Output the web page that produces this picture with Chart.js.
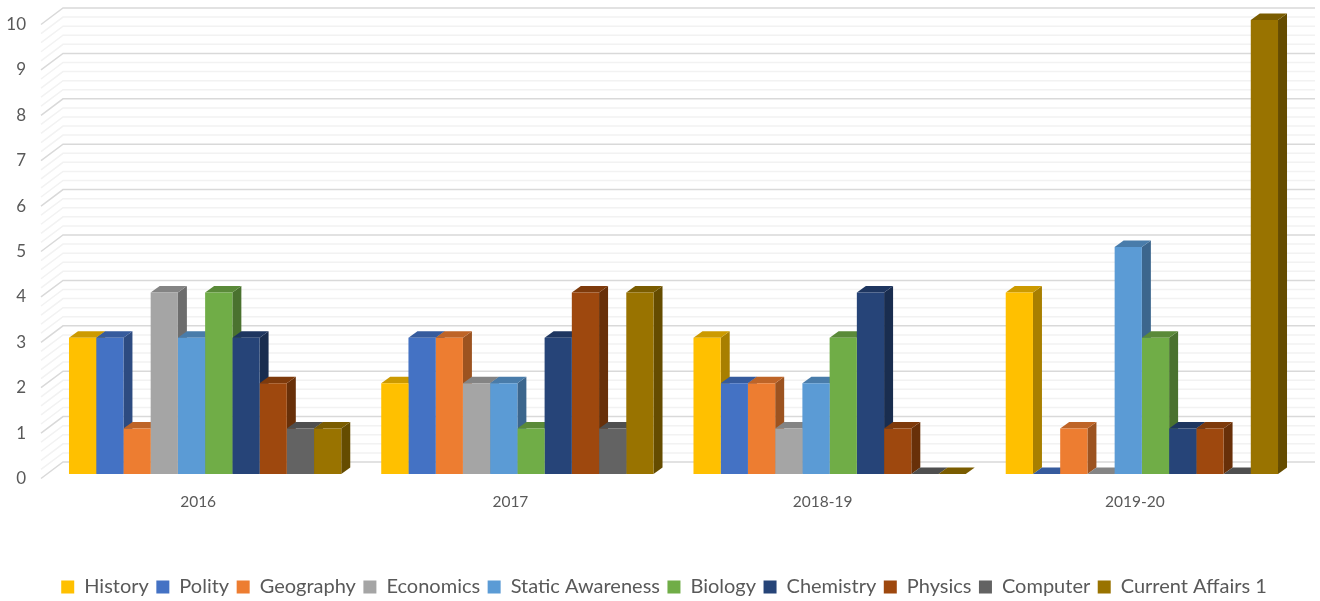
<!DOCTYPE html>
<html>
<head>
<meta charset="utf-8">
<title>Questions by subject</title>
<script src="https://cdn.jsdelivr.net/npm/chart.js@4"></script>
<style>
  html, body { margin: 0; padding: 0; background: #fff; }
  canvas { display: block; }
</style>
</head>
<body>
<canvas id="chart" width="1320" height="601"></canvas>
<script>
const years = ['2016', '2017', '2018-19', '2019-20'];

const history = [3, 2, 3, 4];
const polity = [3, 3, 2, 0];
const geography = [1, 3, 2, 1];
const economics = [4, 2, 1, 0];
const staticAwareness = [3, 2, 2, 5];
const biology = [4, 1, 3, 3];
const chemistry = [3, 3, 4, 1];
const physics = [2, 4, 1, 1];
const computer = [1, 1, 0, 0];
const currentAffairs = [1, 4, 0, 10];

const seriesNames = ['History', 'Polity', 'Geography', 'Economics', 'Static Awareness', 'Biology', 'Chemistry', 'Physics', 'Computer', 'Current Affairs 1'];
const seriesValues = [history, polity, geography, economics, staticAwareness, biology, chemistry, physics, computer, currentAffairs];
const seriesColors = ['#FFC000', '#4472C4', '#ED7D31', '#A5A5A5', '#5B9BD5', '#70AD47', '#264478', '#9E480E', '#636363', '#997300'];

const FONT = 'Lato, "Open Sans", sans-serif';
const TEXT = '#595959';

// how far the 3D box goes back, in pixels
const BAR_DX = 9;
const BAR_DY = 6.5;

function shade(hex, k) {
  const n = parseInt(hex.slice(1), 16);
  const c = [n >> 16, (n >> 8) & 255, n & 255].map((v) => Math.round(v * k));
  return `rgb(${c[0]},${c[1]},${c[2]})`;
}

// back wall and left wall gridlines, every 0.2 on the value axis
function drawWalls(chart) {
  const { ctx, chartArea, scales } = chart;
  const frontX = chartArea.left - 8;
  const backX = chartArea.left + 14;
  const endX = chartArea.right + 17;
  ctx.save();
  ctx.lineWidth = 1.5;
  for (let pass = 0; pass < 2; pass++) {
    for (let i = 0; i <= 50; i++) {
      const major = i % 5 === 0;
      if (major !== (pass === 1)) continue;
      const y = scales.y.getPixelForValue(i / 5);
      ctx.strokeStyle = major ? '#D9D9D9' : '#F2F2F2';
      ctx.beginPath();
      ctx.moveTo(frontX, y + 4.5);
      ctx.lineTo(backX, y - 12);
      ctx.lineTo(endX, y - 12);
      ctx.stroke();
    }
  }
  ctx.restore();
}

// right side and top of every bar, left to right. Chart.js paints the fronts afterwards
function drawBoxes(chart) {
  const { ctx } = chart;
  ctx.save();
  seriesColors.forEach((color, i) => {
    chart.getDatasetMeta(i).data.forEach((bar) => {
      const { x, y, base, width } = bar.getProps(['x', 'y', 'base', 'width']);
      const l = x - width / 2;
      const r = x + width / 2;
      ctx.fillStyle = shade(color, 0.66);
      ctx.beginPath();
      ctx.moveTo(r, y);
      ctx.lineTo(r + BAR_DX, y - BAR_DY);
      ctx.lineTo(r + BAR_DX, base - BAR_DY);
      ctx.lineTo(r, base);
      ctx.closePath();
      ctx.fill();
      ctx.fillStyle = shade(color, 0.8);
      ctx.beginPath();
      ctx.moveTo(l, y);
      ctx.lineTo(l + BAR_DX, y - BAR_DY);
      ctx.lineTo(r + BAR_DX, y - BAR_DY);
      ctx.lineTo(r, y);
      ctx.closePath();
      ctx.fill();
    });
  });
  ctx.restore();
}

const box3dPlugin = {
  id: 'box3d',
  afterLayout(chart) {
    // legend sits centred on the whole picture plus a bit, not on the plot
    chart.legend.left += 15;
    chart.legend.right += 15;
  },
  beforeDatasetsDraw(chart) {
    drawWalls(chart);
    drawBoxes(chart);
  }
};

new Chart(document.getElementById('chart'), {
  type: 'bar',
  data: {
    labels: years,
    datasets: seriesNames.map((name, i) => ({
      label: name,
      data: seriesValues[i],
      backgroundColor: seriesColors[i],
      categoryPercentage: 0.872,
      barPercentage: 1
    }))
  },
  plugins: [box3dPlugin],
  options: {
    responsive: false,
    animation: false,
    layout: { padding: { top: 20, right: 22, left: 0, bottom: -6 } },
    plugins: {
      tooltip: { enabled: false },
      legend: {
        position: 'bottom',
        labels: {
          boxWidth: 13,
          boxHeight: 13,
          padding: 7.5,
          color: TEXT,
          font: { family: FONT, size: 20 }
        }
      }
    },
    scales: {
      x: {
        grid: { display: false },
        border: { display: false },
        afterFit(scale) { scale.height = 95.5; },
        ticks: {
          color: TEXT,
          font: { family: FONT, size: 15.5 },
          padding: 11,
          labelOffset: -7,
          maxRotation: 0
        }
      },
      y: {
        min: 0,
        max: 10,
        grid: { display: false, drawTicks: false },
        border: { display: false },
        afterFit(scale) {
          scale.width = 49;
          scale.paddingTop = 0;
          scale.paddingBottom = 0;
        },
        ticks: {
          stepSize: 1,
          color: TEXT,
          font: { family: FONT, size: 17 },
          padding: 23,
          labelOffset: 4.5
        }
      }
    }
  }
});
</script>
</body>
</html>
